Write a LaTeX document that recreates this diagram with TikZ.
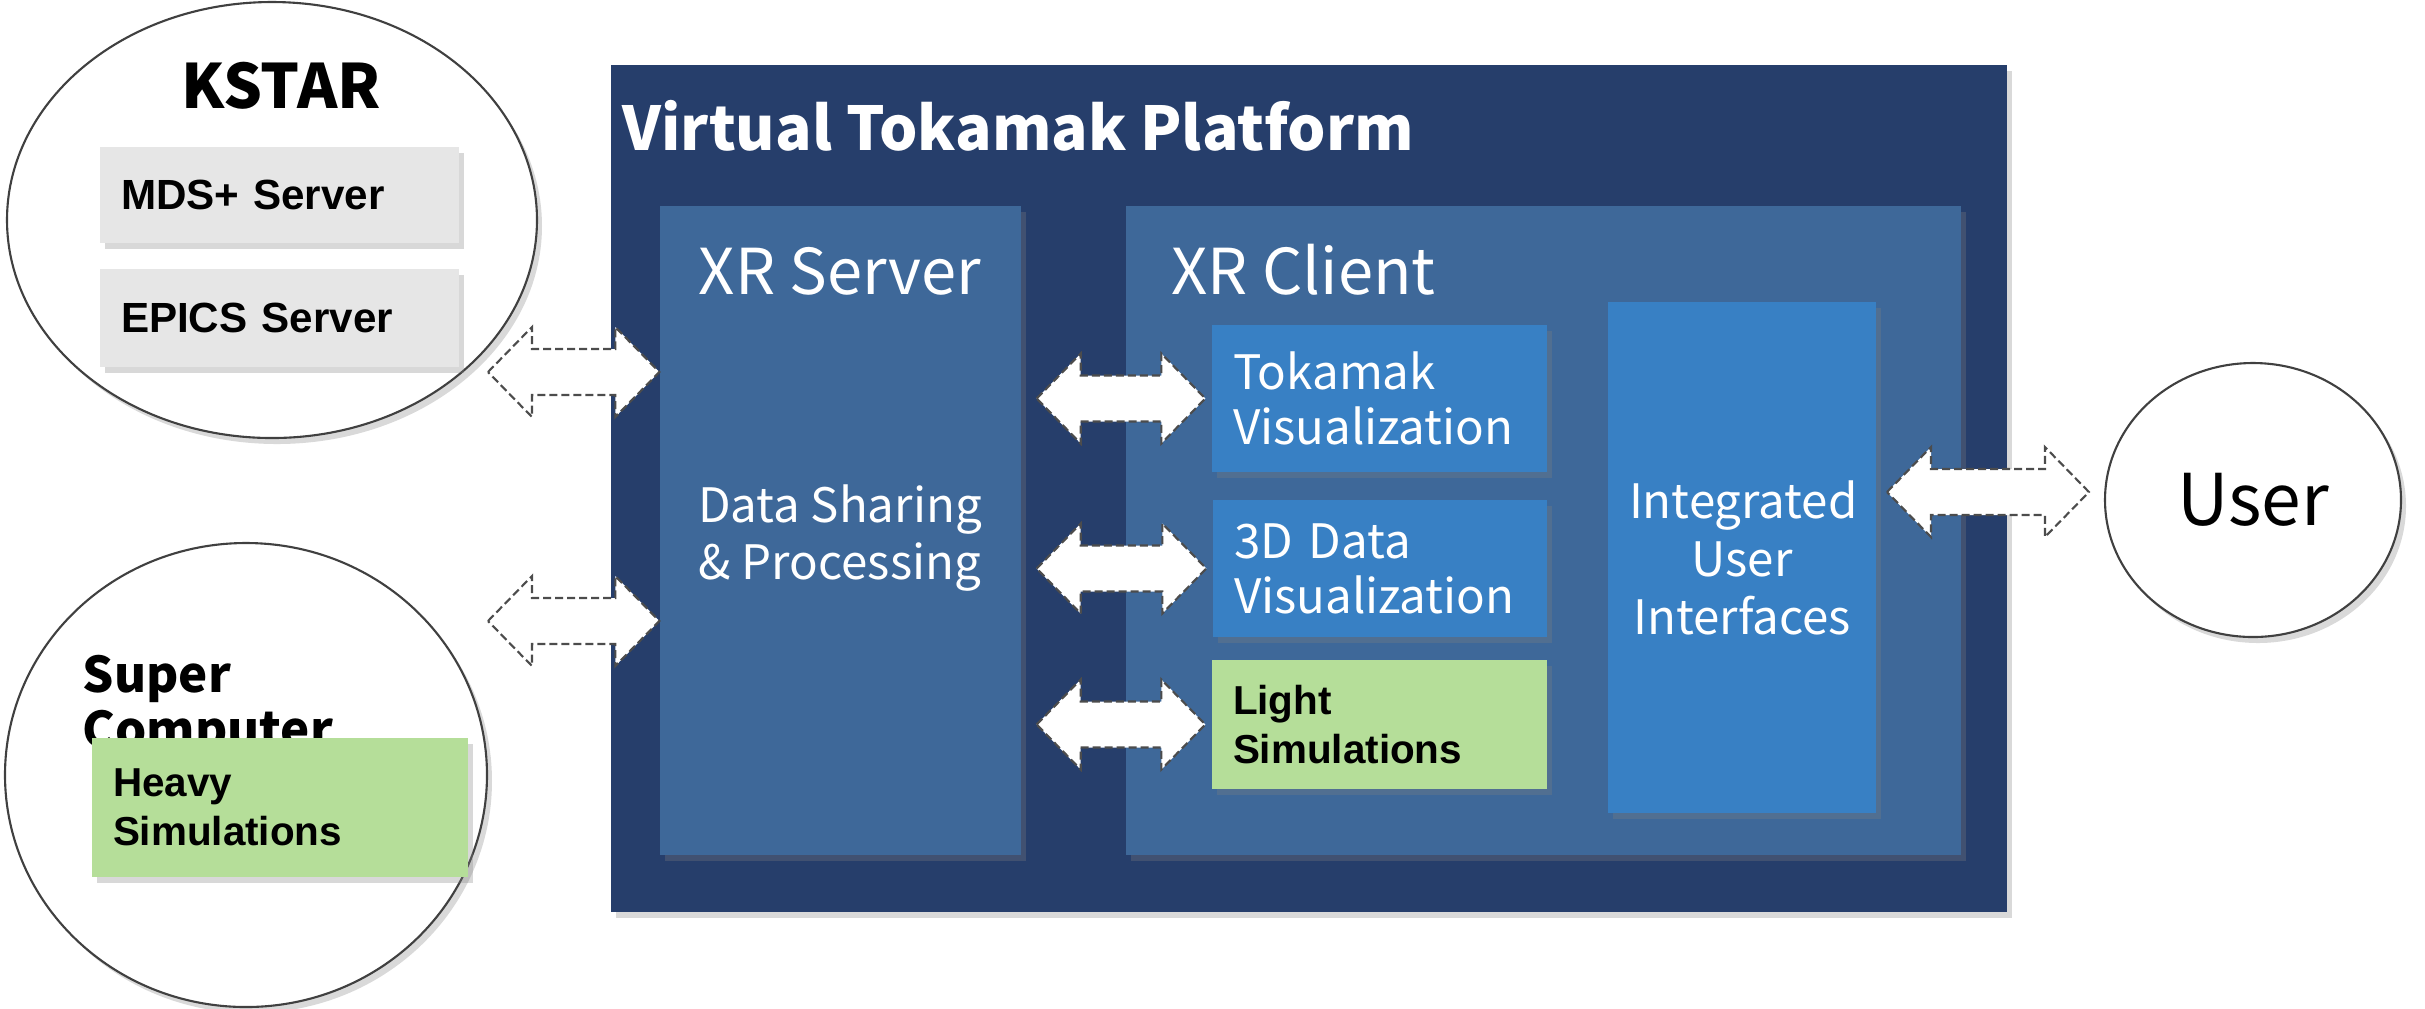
\documentclass[tikz,border=0pt]{standalone}
\usepackage{fontspec}
\setmainfont{Liberation Sans}
\newfontfamily\krfont{Noto Sans CJK KR}
\usetikzlibrary{calc,positioning,shapes.geometric,shadows}

\definecolor{platformblue}{RGB}{38,62,107}
\definecolor{tierblue}{RGB}{62,104,153}
\definecolor{modblue}{RGB}{56,128,196}
\definecolor{simgreen}{RGB}{181,222,153}
\definecolor{servergray}{RGB}{230,230,230}

\tikzset{
  boxshadow/.style={drop shadow={shadow xshift=0.5mm,shadow yshift=-0.6mm,opacity=0.3}},
  tier/.style={fill=tierblue,inner sep=0pt,boxshadow},
  tiertitle/.style={anchor=base,inner sep=0pt,text=white,font=\krfont\fontsize{18}{21}\selectfont},
  tiertext/.style={text=white,align=center,font=\krfont\fontsize{13.5}{16.3}\selectfont},
  module/.style={fill=modblue,text=white,font=\krfont\fontsize{13.5}{15.6}\selectfont,inner xsep=2.1mm,inner ysep=0pt,align=left,boxshadow},
  simbox/.style={fill=simgreen,font=\bfseries\fontsize{11.5}{14}\selectfont,inner xsep=2.1mm,inner ysep=0pt,align=left,boxshadow},
  srvbox/.style={fill=servergray,font=\bfseries\fontsize{12}{14}\selectfont,inner xsep=2.1mm,inner ysep=0pt,align=left,boxshadow},
  site/.style={ellipse,draw=black!75,fill=white,line width=0.6pt,inner sep=0pt,boxshadow},
  dblarrow/.style={draw=black!70,fill=white,dash pattern=on 0.8mm off 0.4mm,line width=0.6pt,
    to path={let \p1=(\tikztostart), \p2=(\tikztotarget) in
      (\x1,\y1) -- (\x1+4.4mm,\y1+4.5mm) -- (\x1+4.4mm,\y1+2.3mm)
      -- (\x2-4.4mm,\y1+2.3mm) -- (\x2-4.4mm,\y1+4.5mm) -- (\x2,\y1)
      -- (\x2-4.4mm,\y1-4.5mm) -- (\x2-4.4mm,\y1-2.3mm)
      -- (\x1+4.4mm,\y1-2.3mm) -- (\x1+4.4mm,\y1-4.5mm) -- cycle}}
}

\begin{document}
\begin{tikzpicture}[x=0.1mm,y=-0.1mm]
	\useasboundingbox (0,0) rectangle (2425,1008);
	% platform with server and client
	\node[fill=platformblue,minimum width=139.6mm,minimum height=84.7mm,boxshadow] (platform) at (1309,488.5) {};
	\node[anchor=base west,inner sep=0pt,text=white,font=\krfont\bfseries\fontsize{17.2}{20}\selectfont] (ptitle) at (622,150) {Virtual Tokamak Platform};
	\node[tier,minimum width=36.1mm,minimum height=64.9mm] (xrserver) at (840.5,530.5) {};
	\node[tier,minimum width=83.5mm,minimum height=64.9mm] (xrclient) at (1543.5,530.5) {};
	\node[tiertitle] (servertitle) at (840,294) {XR Server};
	\node[tiertitle,anchor=base west] (clienttitle) at (1171,294) {XR Client};
	\node[tiertext] (sharing) at (840,538) {Data Sharing\\\& Processing};
	% client modules
	\node[module,text width=29.3mm,minimum height=14.7mm] (tokamak) at (1379.5,398.5) {Tokamak\\Visualization};
	\node[module,text width=29.2mm,minimum height=13.7mm] (data3d) at (1380,568.5) {3D Data\\Visualization};
	\node[simbox,text width=29.3mm,minimum height=12.9mm] (lightsim) at (1379.5,724.5) {Light\\Simulations};
	\node[module,align=center,text width=22.6mm,minimum height=51.1mm,font=\krfont\fontsize{13.5}{16.5}\selectfont] (integrated) at (1742,557.5) {Integrated\\User\\Interfaces};
	% outside sites
	\node[site,minimum width=53mm,minimum height=43.6mm] (kstar) at (272,220) {};
	\node[anchor=base,font=\krfont\bfseries\fontsize{17.4}{20}\selectfont] (kstartitle) at (281,108) {KSTAR};
	\node[srvbox,text width=31.7mm,minimum height=9.6mm] (mds) at (279.5,195) {MDS+ Server};
	\node[srvbox,text width=31.7mm,minimum height=9.8mm] (epics) at (279.5,318) {EPICS Server};
	\node[site,minimum width=48.2mm,minimum height=46.4mm] (supercomp) at (246,775) {};
	\node[anchor=north west,align=left,inner sep=0pt,font=\krfont\bfseries\fontsize{14}{15.9}\selectfont] (supertitle) at (82,654) {Super\\Computer};
	\node[simbox,text width=33.4mm,minimum height=13.9mm] (heavysim) at (280,807.5) {Heavy\\Simulations};
	\node[site,minimum width=29.6mm,minimum height=27.4mm,font=\krfont\fontsize{20.3}{24}\selectfont] (user) at (2253,500) {User};
	% block arrows
	\coordinate (kstarport) at (488,372);
	\coordinate (superport) at (488,621);
	\coordinate (userport) at (1887,492);
	\draw[dblarrow] (kstarport) to (kstarport -| xrserver.west);
	\draw[dblarrow] (superport) to (superport -| xrserver.west);
	\draw[dblarrow] ($(xrserver.east |- tokamak.west)+(15,0)$) to ($(tokamak.west)+(-6,0)$);
	\draw[dblarrow] ($(xrserver.east |- data3d.west)+(15,0)$) to ($(data3d.west)+(-6,0)$);
	\draw[dblarrow] ($(xrserver.east |- lightsim.west)+(15,0)$) to ($(lightsim.west)+(-6,0)$);
	\draw[dblarrow] (userport) to ($(userport -| user.west)+(-15,0)$);
\end{tikzpicture}
\end{document}
